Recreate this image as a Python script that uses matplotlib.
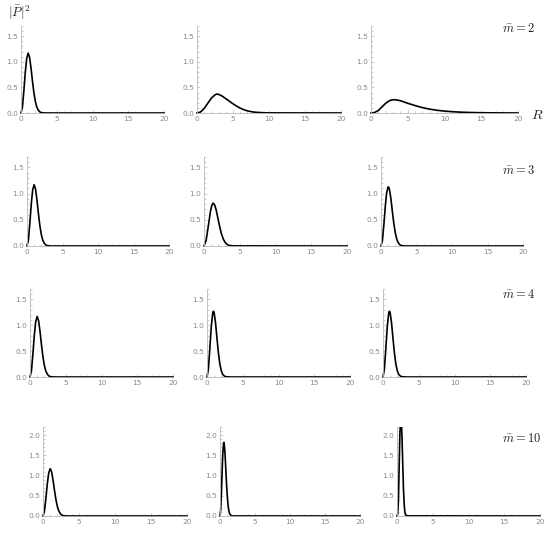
import matplotlib
matplotlib.use("Agg")
import matplotlib.pyplot as plt
from matplotlib.ticker import MultipleLocator, FixedLocator
from matplotlib.patches import Rectangle

plt.rcParams['mathtext.fontset'] = 'cm'

# ---- data ----
m_labels = [r'$\bar{m} = 2$', r'$\bar{m} = 3$', r'$\bar{m} = 4$', r'$\bar{m} = 10$']
y_label = r'$|\bar{P}|^2$'
x_label = r'$R$'
x_ticks = [0, 5, 10, 15, 20]
y_ticks_small = [0.0, 0.5, 1.0, 1.5]
y_ticks_large = [0.0, 0.5, 1.0, 1.5, 2.0]
y_max_rows = [1.7, 1.7, 1.7, 2.2]

# common curve (first column of every row)
r_a = [0, 0.2, 0.4, 0.6, 0.8, 1.0, 1.2, 1.4, 1.6, 1.8, 2.0, 2.2, 2.4, 2.6, 2.8, 3.0, 3.5, 20]
p_a = [0, 0.12, 0.43, 0.80, 1.07, 1.17, 1.09, 0.88, 0.63, 0.40, 0.23, 0.12, 0.06, 0.025, 0.009, 0.003, 0, 0]

# row 1 (m=2)
r_12 = [0, 0.5, 1, 1.5, 2, 2.5, 2.75, 3, 3.5, 4, 4.5, 5, 5.5, 6, 6.5, 7, 7.5, 8, 9, 10, 20]
p_12 = [0, 0.02, 0.09, 0.19, 0.29, 0.355, 0.37, 0.365, 0.33, 0.28, 0.23, 0.18, 0.135, 0.095,
        0.065, 0.042, 0.027, 0.016, 0.006, 0.002, 0]
r_13 = [0, 0.5, 1, 1.5, 2, 2.5, 3, 3.5, 4, 5, 6, 7, 8, 9, 10, 11, 12, 13, 14, 15, 17, 20]
p_13 = [0, 0.01, 0.05, 0.12, 0.19, 0.24, 0.26, 0.255, 0.24, 0.19, 0.145, 0.105, 0.075, 0.053,
        0.037, 0.026, 0.018, 0.012, 0.008, 0.005, 0.002, 0]

# row 2 (m=3)
r_22 = [0, 0.3, 0.6, 0.9, 1.1, 1.3, 1.5, 1.7, 1.9, 2.1, 2.4, 2.7, 3.0, 3.4, 4.0, 20]
p_22 = [0, 0.11, 0.38, 0.66, 0.78, 0.82, 0.78, 0.69, 0.56, 0.43, 0.25, 0.13, 0.06, 0.016, 0.002, 0]
r_23 = [0, 0.2, 0.4, 0.6, 0.8, 1.0, 1.1, 1.2, 1.4, 1.6, 1.8, 2.0, 2.2, 2.4, 2.6, 2.8, 3.0, 3.5, 20]
p_23 = [0, 0.11, 0.40, 0.75, 1.02, 1.13, 1.12, 1.07, 0.90, 0.66, 0.44, 0.26, 0.14, 0.07, 0.03,
        0.012, 0.004, 0, 0]

# row 3 (m=4)
r_32 = [0, 0.2, 0.4, 0.6, 0.8, 0.9, 1.0, 1.2, 1.4, 1.6, 1.8, 2.0, 2.2, 2.4, 2.7, 3.2, 20]
p_32 = [0, 0.16, 0.56, 0.98, 1.24, 1.27, 1.24, 1.04, 0.74, 0.46, 0.25, 0.12, 0.05, 0.02, 0.004, 0, 0]
r_33 = [0, 0.2, 0.4, 0.6, 0.8, 0.9, 1.0, 1.2, 1.4, 1.6, 1.8, 2.0, 2.2, 2.4, 2.7, 3.2, 20]
p_33 = [0, 0.16, 0.56, 0.98, 1.24, 1.27, 1.24, 1.04, 0.74, 0.46, 0.25, 0.12, 0.05, 0.02, 0.004, 0, 0]

# row 4 (m=10)
r_42 = [0, 0.1, 0.2, 0.3, 0.4, 0.5, 0.55, 0.6, 0.7, 0.8, 0.9, 1.0, 1.1, 1.2, 1.3, 1.4, 1.6, 1.8, 20]
p_42 = [0, 0.16, 0.57, 1.09, 1.54, 1.79, 1.82, 1.79, 1.59, 1.26, 0.91, 0.60, 0.36, 0.20, 0.10,
        0.05, 0.009, 0.001, 0]
r_43 = [0, 0.1, 0.2, 0.3, 0.4, 0.5, 0.55, 0.6, 0.7, 0.8, 0.9, 1.0, 1.1, 1.2, 1.4, 20]
p_43 = [0, 0.05, 0.40, 1.20, 2.00, 2.40, 2.45, 2.40, 1.95, 1.30, 0.70, 0.30, 0.10, 0.03, 0.003, 0]

curves = [
    [(r_a, p_a), (r_12, p_12), (r_13, p_13)],
    [(r_a, p_a), (r_22, p_22), (r_23, p_23)],
    [(r_a, p_a), (r_32, p_32), (r_33, p_33)],
    [(r_a, p_a), (r_42, p_42), (r_43, p_43)],
]

# ---- layout (pixels) ----
W, H = 554, 541
row_y0 = [113, 246, 377, 516]
row_top = [26, 157, 289, 427]
col_x = [
    [(21, 164), (197, 341), (371, 518)],
    [(27, 169), (204, 347), (381, 523)],
    [(30, 173), (207, 350), (383, 526)],
    [(43, 187), (220, 360), (397, 540)],
]
label_y = [29, 170, 294, 438]

axis_col = '#b8b8b8'
tick_col = '#8a8a8a'

fig = plt.figure(figsize=(W / 100, H / 100), dpi=100)

for i in range(4):
    ymax = y_max_rows[i]
    for j in range(3):
        x0, x1 = col_x[i][j]
        y0, yt = row_y0[i], row_top[i]
        ax = fig.add_axes([x0 / W, 1 - y0 / H, (x1 - x0) / W, (y0 - yt) / H])
        ax.set_xlim(0, 20)
        ax.set_ylim(0, ymax)
        for s in ['top', 'right']:
            ax.spines[s].set_visible(False)
        for s in ['left', 'bottom']:
            ax.spines[s].set_color(axis_col)
            ax.spines[s].set_linewidth(0.6)
        ax.patch.set_alpha(0)
        yt_list = y_ticks_large if ymax > 2 else y_ticks_small
        ax.xaxis.set_major_locator(FixedLocator(x_ticks))
        ax.xaxis.set_minor_locator(MultipleLocator(1))
        ax.yaxis.set_major_locator(FixedLocator(yt_list))
        ax.yaxis.set_minor_locator(MultipleLocator(0.1))
        ax.set_xticklabels([str(t) for t in x_ticks])
        ax.set_yticklabels(['%.1f' % t for t in yt_list])
        ax.tick_params(which='both', direction='in', color=axis_col, width=0.5,
                       labelsize=5.3, labelcolor=tick_col, pad=2)
        ax.tick_params(which='major', length=2.5)
        ax.tick_params(which='minor', length=1.3)
        r, p = curves[i][j]
        ln, = ax.plot(r, p, color='black', lw=1.2, solid_joinstyle='round')
        ln.set_clip_path(Rectangle((-0.05, -0.1), 1.1, 1.1, transform=ax.transAxes))
    fig.text(502 / W, 1 - label_y[i] / H, m_labels[i], fontsize=9, color='#222222',
             ha='left', va='center')

fig.text(8 / W, 1 - 13 / H, y_label, fontsize=9.5, color='#222222', ha='left', va='center')
fig.text(531 / W, 1 - 115 / H, x_label, fontsize=10, color='#222222', ha='left', va='center')

fig.savefig('out.png', dpi=100)
